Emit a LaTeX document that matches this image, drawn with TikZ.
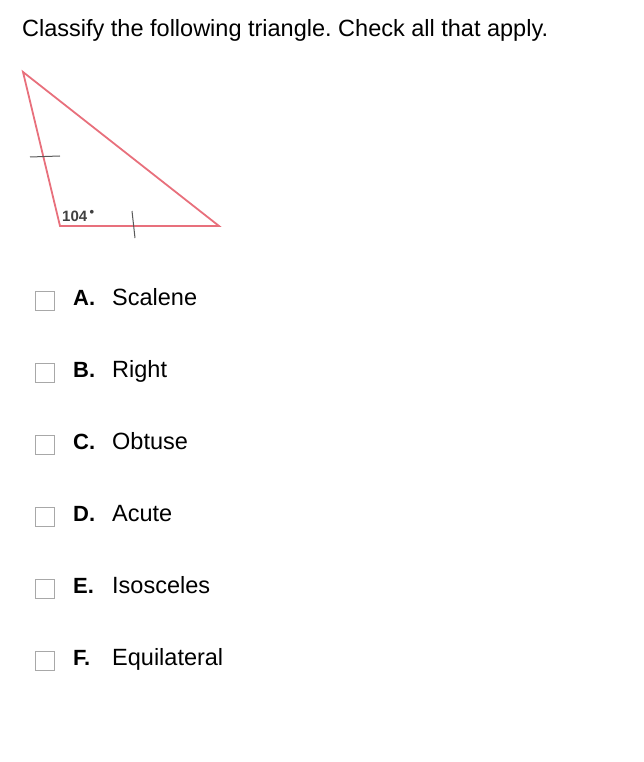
\documentclass[tikz,border=0pt]{standalone}
\usepackage{fontspec}
\setmainfont{Liberation Sans}
\usepackage{xcolor}
\definecolor{trired}{HTML}{E8707C}
\definecolor{boxgray}{HTML}{A8A8A8}
\tikzset{
    checkbox/.style={draw=boxgray, line width=1.3pt, minimum size=19pt, inner sep=0pt},
    letter/.style={anchor=base west, inner sep=0pt, font=\fontsize{22}{24}\selectfont\bfseries},
    answer/.style={anchor=base west, inner sep=0pt, font=\fontsize{23.5}{26}\selectfont},
}
\frenchspacing
\begin{document}
\begin{tikzpicture}[x=1pt, y=-1pt]
    \useasboundingbox (0,0) rectangle (644,762);

    % Question
    \node[anchor=base west, inner sep=0pt, font=\fontsize{23.5}{26}\selectfont] (question) at (22,37) {Classify the following triangle. Check all that apply.};

    % Triangle
    \coordinate (top) at (23,72);
    \coordinate (left) at (60,226);
    \coordinate (right) at (219,226);
    \draw[trired, line width=1.8pt] (top) -- (left) -- (right) -- cycle;

    % Tick marks
    \coordinate (t1a) at (30,157);
    \coordinate (t1b) at (60,156);
    \coordinate (t2a) at (132,211);
    \coordinate (t2b) at (135,238);
    \draw[black!65, line width=1pt] (t1a) -- (t1b);
    \draw[black!65, line width=1pt] (t2a) -- (t2b);

    % Angle
    \node[anchor=base west, inner sep=0pt, text=black!75, font=\fontsize{15}{16}\selectfont\bfseries] (angle) at (62,221) {104\,\raisebox{0.3em}{\fontsize{13}{13}\selectfont\textbullet}};

    % Options
    \node[checkbox] (boxA) at (45,301) {};
    \node[letter] (letA) at (73,305) {A.};
    \node[answer] (ansA) at (112,305) {Scalene};

    \node[checkbox] (boxB) at (45,373) {};
    \node[letter] (letB) at (73,377) {B.};
    \node[answer] (ansB) at (112,377) {Right};

    \node[checkbox] (boxC) at (45,445) {};
    \node[letter] (letC) at (73,449) {C.};
    \node[answer] (ansC) at (112,449) {Obtuse};

    \node[checkbox] (boxD) at (45,517) {};
    \node[letter] (letD) at (73,521) {D.};
    \node[answer] (ansD) at (112,521) {Acute};

    \node[checkbox] (boxE) at (45,589) {};
    \node[letter] (letE) at (73,593) {E.};
    \node[answer] (ansE) at (112,593) {Isosceles};

    \node[checkbox] (boxF) at (45,661) {};
    \node[letter] (letF) at (73,665) {F.};
    \node[answer] (ansF) at (112,665) {Equilateral};
\end{tikzpicture}
\end{document}
